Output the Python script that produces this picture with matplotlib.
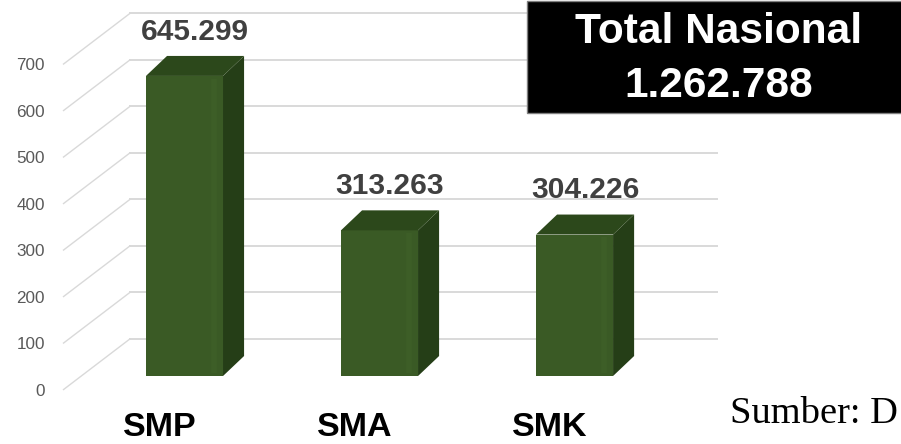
import matplotlib
matplotlib.use("Agg")
import matplotlib.pyplot as plt
from matplotlib.patches import Rectangle

# ---- data ----
categories = ["SMP", "SMA", "SMK"]
values = [645.299, 313.263, 304.226]
value_labels = ["645.299", "313.263", "304.226"]
y_ticks = [0, 100, 200, 300, 400, 500, 600, 700]
total_title = "Total Nasional"
total_value = "1.262.788"
source_text = "Sumber: D"

# ---- styling / geometry ----
FRONT = "#3a5a25"
SIDE = "#253e17"
TOP = "#2c481b"
GRID = "#d9d9d9"
bar_w = 0.395
dx, dy = 0.108, 43.0          # oblique depth of the bars
front_off_x, front_off_y = -0.623, -30.0   # front plane of the axis
back_x0, back_x1, back_off_y = -0.279, 2.731, 80.0

fig = plt.figure(figsize=(9.01, 4.44), dpi=100)
ax = fig.add_axes([0, 0, 1, 1])
ax.set_xlim(-0.946, 3.674)
ax.set_ylim(-146.2, 808.6)
ax.axis("off")

# gridlines: diagonal from front plane to back wall + horizontal on back wall
for t in y_ticks:
    ax.plot([front_off_x, back_x0], [t + front_off_y, t + back_off_y],
            color=GRID, lw=1.0, zorder=1, solid_capstyle="butt")
    ax.plot([back_x0, back_x1], [t + back_off_y, t + back_off_y],
            color=GRID, lw=1.4, zorder=1)
    ax.text(-0.715, t + front_off_y, f"{t}", ha="right", va="center_baseline",
            fontsize=12.3, color="#595959", family="Liberation Sans")

# bars
xs = list(range(len(categories)))
ax.bar(xs, values, width=bar_w, color=FRONT, zorder=3, linewidth=0)
for x, v in zip(xs, values):
    xl, xr = x - bar_w / 2, x + bar_w / 2
    ax.fill([xr, xr + dx, xr + dx, xr], [0, dy, v + dy, v],
            color=SIDE, zorder=3, linewidth=0)
    ax.fill([xl, xr, xr + dx, xl + dx], [v, v, v + dy, v + dy],
            color=TOP, zorder=3, linewidth=0)
    # soft highlight on the front face
    ax.plot([xr - 0.045, xr - 0.045], [6, v - 6], color="#44662b", lw=4,
            alpha=0.35, zorder=4, solid_capstyle="butt")

# value labels
for x, v, lab in zip(xs, values, value_labels):
    ax.text(x + dx / 2, v + 95, lab, ha="center", va="center",
            fontsize=21.5, fontweight="bold", color="#404040",
            family="Liberation Sans")

# category labels
for x, c in zip(xs, categories):
    ax.text(x - 0.126, -128, c, ha="center", va="baseline",
            fontsize=24.5, fontweight="bold", color="black",
            family="Liberation Sans")

# total box
fig.patches.append(Rectangle((527 / 901, (444 - 113) / 444), 0.5, 112 / 444,
                             transform=fig.transFigure, facecolor="black",
                             edgecolor="#808080", linewidth=1.0, zorder=5))
fig.text(719 / 901, (444 - 43) / 444, total_title, ha="center", va="baseline",
         fontsize=30.5, fontweight="bold", color="white",
         family="Liberation Sans", zorder=6)
fig.text(719 / 901, (444 - 97) / 444, total_value, ha="center", va="baseline",
         fontsize=30.5, fontweight="bold", color="white",
         family="Liberation Sans", zorder=6)

fig.text(730 / 901, (444 - 423) / 444, source_text, ha="left", va="baseline",
         fontsize=27.7, color="black", family="Liberation Serif")

fig.savefig("out.png", dpi=100)
